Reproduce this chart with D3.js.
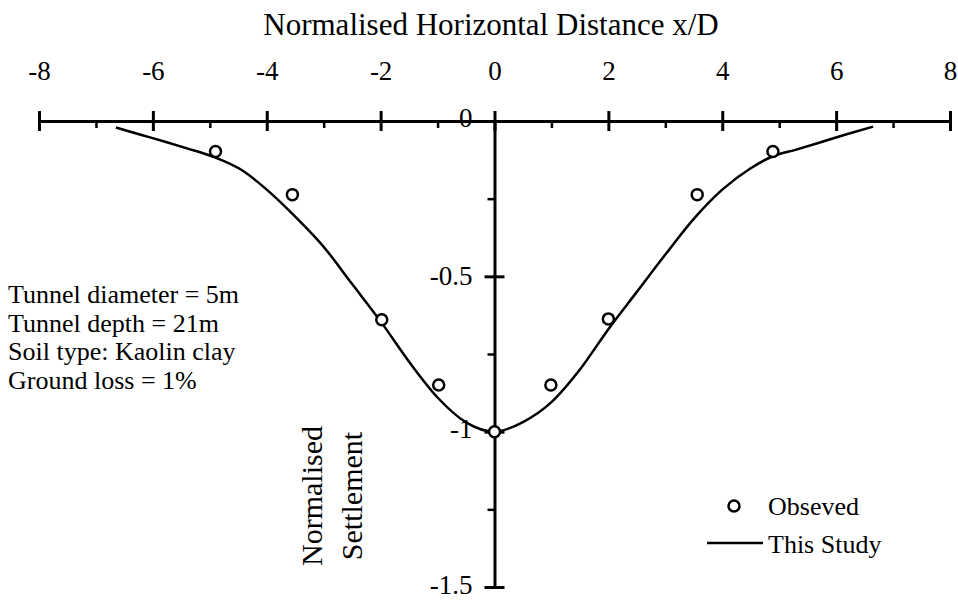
<!DOCTYPE html>
<html>
<head>
<meta charset="utf-8">
<script src="https://cdn.jsdelivr.net/npm/d3@7"></script>
<style>
  html, body { margin: 0; padding: 0; background: #fff; }
  svg { display: block; }
</style>
</head>
<body>
<svg id="chart" width="958" height="600"></svg>
<script>
// Observed settlement points (normalised)
const obsX = [-4.9, -3.55, -1.98, -0.98, 0, 0.99, 2.0, 3.56, 4.89];
const obsY = [-0.098, -0.237, -0.640, -0.850, -1.0, -0.850, -0.637, -0.237, -0.098];

// Predicted settlement trough ("This Study")
const curveX = [-6.65, -6.2, -5.8, -5.4, -4.94, -4.42, -4.0, -3.5, -3.0, -2.5, -2.0, -1.5, -1.0, -0.5, 0,
                0.5, 1.0, 1.5, 2.0, 2.5, 3.0, 3.5, 4.0, 4.5, 4.87, 5.3, 5.77, 6.2, 6.65];
const curveY = [-0.021, -0.045, -0.066, -0.088, -0.115, -0.160, -0.221, -0.308, -0.405, -0.525, -0.645, -0.775, -0.890, -0.970, -1.0,
                -0.969, -0.905, -0.800, -0.670, -0.550, -0.430, -0.315, -0.221, -0.152, -0.115, -0.092, -0.066, -0.042, -0.018];

// Axis ticks
const xMajor = [-8, -6, -4, -2, 0, 2, 4, 6, 8];
const xMinor = [-7, -5, -3, -1, 1, 3, 5, 7];
const yMajor = [0, -0.5, -1, -1.5];
const yMinor = [-0.25, -0.75, -1.25];

const notes = ["Tunnel diameter = 5m", "Tunnel depth = 21m", "Soil type: Kaolin clay", "Ground loss = 1%"];
const legendLabels = ["Obseved", "This Study"];

const FONT = "'Liberation Serif'";

const svg = d3.select("#chart");
const x = d3.scaleLinear().domain([-8, 8]).range([39, 950]);
const y = d3.scaleLinear().domain([0, -1.5]).range([121, 587]);
const x0 = x(0), y0 = y(0);

// Title
svg.append("text")
  .attr("x", 491).attr("y", 35)
  .attr("text-anchor", "middle")
  .style("font-family", FONT)
  .style("font-size", "31px")
  .style("fill", "#000")
  .text("Normalised Horizontal Distance x/D");

// X axis (labels above, ticks crossing the line)
const gx = svg.append("g").attr("transform", `translate(0,${y0})`)
  .call(d3.axisTop(x).tickValues(xMajor).tickSize(0).tickSizeOuter(0).tickPadding(41).tickFormat(d => String(d)));
gx.attr("font-family", null).style("font-family", FONT);
gx.select(".domain").attr("stroke", "#000").attr("stroke-width", 3);
gx.selectAll(".tick line").attr("y1", -10).attr("y2", 10).attr("stroke", "#000").attr("stroke-width", 3);
gx.selectAll(".tick text").style("font-family", FONT).style("font-size", "27px").style("fill", "#000");

const gxm = svg.append("g").attr("transform", `translate(0,${y0})`)
  .call(d3.axisBottom(x).tickValues(xMinor).tickSize(7).tickSizeOuter(0).tickFormat(""));
gxm.select(".domain").remove();
gxm.selectAll(".tick line").attr("stroke", "#000").attr("stroke-width", 2.5);

// Y axis along x = 0
const gy = svg.append("g").attr("transform", `translate(${x0},0)`)
  .call(d3.axisLeft(y).tickValues(yMajor).tickSize(0).tickSizeOuter(0).tickPadding(22).tickFormat(d => String(d)));
gy.attr("font-family", null).style("font-family", FONT);
gy.select(".domain").attr("stroke", "#000").attr("stroke-width", 3);
gy.selectAll(".tick line").attr("x1", -10).attr("x2", 10).attr("stroke", "#000").attr("stroke-width", 3);
gy.selectAll(".tick text").style("font-family", FONT).style("font-size", "27px").style("fill", "#000").attr("dy", "0.3em");
gy.selectAll(".tick").filter(d => d === 0).select("line").remove();
gy.selectAll(".tick").filter(d => d === 0).select("text").attr("dy", "0.2em");
gy.selectAll(".tick").filter(d => d === -1).select("text").attr("dy", "0.2em");
gy.selectAll(".tick").filter(d => d === -1.5).select("text").attr("dy", "0.25em");

const gym = svg.append("g").attr("transform", `translate(${x0},0)`)
  .call(d3.axisLeft(y).tickValues(yMinor).tickSize(7).tickSizeOuter(0).tickFormat(""));
gym.select(".domain").remove();
gym.selectAll(".tick line").attr("stroke", "#000").attr("stroke-width", 2.5);

// Y axis title, two rotated lines
const yl = svg.append("g").attr("transform", "translate(0,496)");
yl.append("text").attr("transform", "translate(322,0) rotate(-90)")
  .attr("text-anchor", "middle").style("font-family", FONT).style("font-size", "30px").text("Normalised");
yl.append("text").attr("transform", "translate(362,0) rotate(-90)")
  .attr("text-anchor", "middle").style("font-family", FONT).style("font-size", "30px").text("Settlement");

// Predicted curve
const curveData = curveX.map((d, i) => [d, curveY[i]]);
svg.append("path")
  .datum(curveData)
  .attr("fill", "none").attr("stroke", "#000").attr("stroke-width", 2.5)
  .attr("d", d3.line().x(d => x(d[0])).y(d => y(d[1])).curve(d3.curveMonotoneX));

// Observed points
const obsData = obsX.map((d, i) => [d, obsY[i]]);
svg.append("g").selectAll("circle").data(obsData).join("circle")
  .attr("cx", d => x(d[0])).attr("cy", d => y(d[1])).attr("r", 5.5)
  .attr("fill", "#fff").attr("stroke", "#000").attr("stroke-width", 2.5);

// Case notes
svg.append("g").selectAll("text").data(notes).join("text")
  .attr("x", 8).attr("y", (d, i) => 303 + i * 28.5)
  .style("font-family", FONT).style("font-size", "26px").text(d => d);

// Legend
const lg = svg.append("g");
lg.append("circle").attr("cx", 734).attr("cy", 506).attr("r", 5.5)
  .attr("fill", "#fff").attr("stroke", "#000").attr("stroke-width", 2.5);
lg.append("text").attr("x", 768).attr("y", 515)
  .style("font-family", FONT).style("font-size", "26px").text(legendLabels[0]);
lg.append("line").attr("x1", 707).attr("x2", 763).attr("y1", 543).attr("y2", 543)
  .attr("stroke", "#000").attr("stroke-width", 2.5);
lg.append("text").attr("x", 768).attr("y", 553)
  .style("font-family", FONT).style("font-size", "26px").text(legendLabels[1]);
</script>
</body>
</html>
